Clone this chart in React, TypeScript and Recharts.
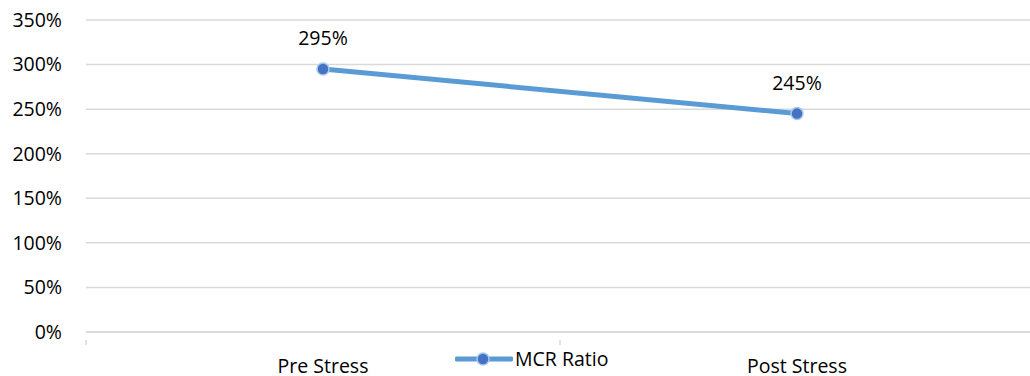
import React from 'react';
import { LineChart, Line, XAxis, YAxis, CartesianGrid, LabelList } from 'recharts';

const categories = ['Pre Stress', 'Post Stress'];
const mcrRatio = [295, 245];
const yTicks = [0, 50, 100, 150, 200, 250, 300, 350];

const data = categories.map((name, i) => ({ pos: i + 0.5, name, mcr: mcrRatio[i] }));

const FONT = '"Open Sans", "Noto Sans", sans-serif';
const FONT_SIZE = 19.5;
const LINE_COLOR = '#5b9bd5';
const DOT_COLOR = '#4472c4';

// Category axis with tick marks between categories and labels centred in each band
const CategoryTick = ({ x, y, payload }: any) => {
    const v = payload.value;
    if (Number.isInteger(v)) {
        return <line x1={x} y1={y} x2={x} y2={y + 5} stroke="#d9d9d9" strokeWidth={1.5} />;
    }
    return (
        <text x={x} y={y + 33} textAnchor="middle" fill="#000" fontSize={FONT_SIZE} fontFamily={FONT}>
            {categories[Math.floor(v)]}
        </text>
    );
};

const Dot = ({ cx, cy }: any) => (
    <circle cx={cx} cy={cy} r={6} fill={DOT_COLOR} stroke="#a9c8ea" strokeWidth={1.5} />
);

const LegendRow = () => (
    <div
        style={{
            position: 'absolute',
            left: 455,
            top: 347,
            display: 'flex',
            alignItems: 'center',
            fontFamily: FONT,
            fontSize: FONT_SIZE,
            lineHeight: '24px',
            color: '#000',
        }}
    >
        <svg width={58} height={20}>
            <line x1={2} y1={10} x2={56} y2={10} stroke={LINE_COLOR} strokeWidth={5} strokeLinecap="round" />
            <circle cx={28} cy={10} r={6} fill={DOT_COLOR} stroke="#a9c8ea" strokeWidth={1.5} />
        </svg>
        <span style={{ marginLeft: 2 }}>MCR Ratio</span>
    </div>
);

export default function App() {
    return (
        <div style={{ position: 'absolute', left: 0, top: 0, width: 1030, height: 376, overflow: 'hidden', background: '#fff' }}>
            <LineChart
                width={1034}
                height={376}
                data={data}
                margin={{ top: 20, right: 0, left: 0, bottom: 0 }}
            >
                <CartesianGrid vertical={false} stroke="#d9d9d9" strokeWidth={1.5} />
                <XAxis
                    type="number"
                    dataKey="pos"
                    domain={[0, categories.length]}
                    ticks={[0, 0.5, 1, 1.5, 2]}
                    interval={0}
                    tickLine={false}
                    axisLine={{ stroke: '#d9d9d9', strokeWidth: 1.5 }}
                    tick={<CategoryTick />}
                    height={44}
                />
                <YAxis
                    domain={[0, 350]}
                    ticks={yTicks}
                    width={86}
                    axisLine={false}
                    tickLine={false}
                    tickSize={0}
                    tickMargin={24}
                    tickFormatter={(v) => `${v}%`}
                    tick={{ fill: '#000', fontSize: FONT_SIZE, fontFamily: FONT }}
                />
                <Line
                    dataKey="mcr"
                    stroke={LINE_COLOR}
                    strokeWidth={5}
                    dot={<Dot />}
                    activeDot={false}
                    isAnimationActive={false}
                >
                    <LabelList
                        dataKey="mcr"
                        position="top"
                        offset={24}
                        formatter={(v: any) => `${v}%`}
                        fill="#000"
                        fontSize={FONT_SIZE}
                        fontFamily={FONT}
                    />
                </Line>
            </LineChart>
            <LegendRow />
        </div>
    );
}
